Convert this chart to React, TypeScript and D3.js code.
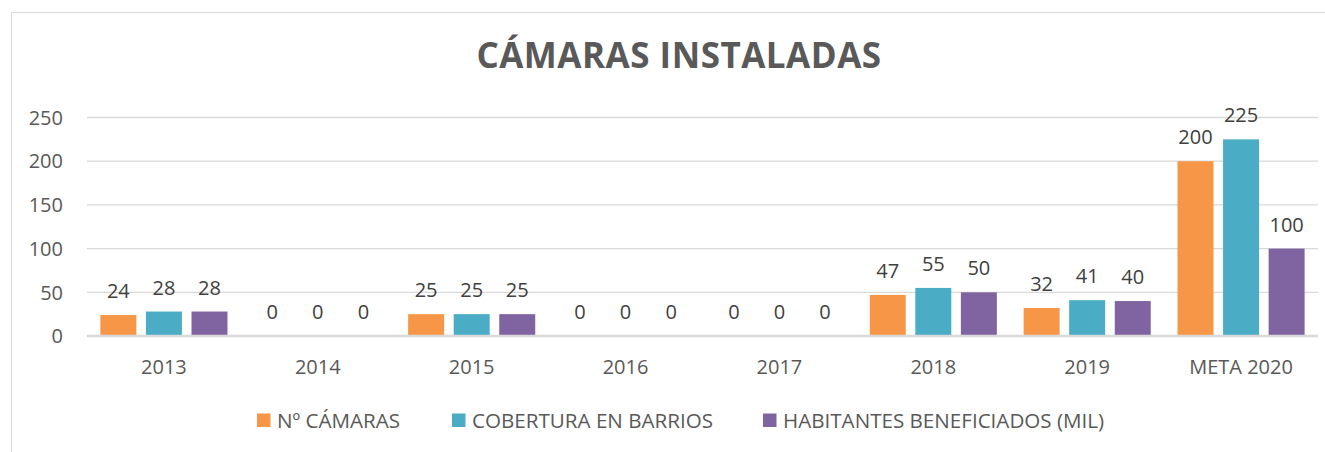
import React from "react";
import * as d3 from "d3";

const categories = ["2013", "2014", "2015", "2016", "2017", "2018", "2019", "META 2020"];
const seriesNames = ["Nº CÁMARAS", "COBERTURA EN BARRIOS", "HABITANTES BENEFICIADOS (MIL)"];
const camaras = [24, 0, 25, 0, 0, 47, 32, 200];
const cobertura = [28, 0, 25, 0, 0, 55, 41, 225];
const habitantes = [28, 0, 25, 0, 0, 50, 40, 100];
const yTicks = [0, 50, 100, 150, 200, 250];
const colors = ["#F79646", "#4BACC6", "#8064A2"];
const title = "CÁMARAS INSTALADAS";

const W = 1325;
const H = 452;
const FONT = "'Open Sans', 'Noto Sans', sans-serif";

export default function App() {
  const series = [camaras, cobertura, habitantes];
  const plotLeft = 87;
  const plotRight = 1318;
  const x = d3.scaleBand<string>().domain(categories).range([plotLeft, plotRight]).padding(0);
  const y = d3.scaleLinear().domain([0, 250]).range([336, 117.5]);
  const groupW = x.bandwidth() * 0.826;
  const inner = d3
    .scaleBand<number>()
    .domain([0, 1, 2])
    .range([-groupW / 2, groupW / 2])
    .paddingInner(0.21)
    .paddingOuter(0);

  const legendX = [257, 452, 763];

  return (
    <svg
      width={W}
      height={H}
      style={{ position: "absolute", left: 0, top: 0, background: "#fff" }}
      fontFamily={FONT}
    >
      <rect x={0} y={0} width={W} height={H} fill="#fff" />
      {/* chart frame */}
      <line x1={11.5} y1={12.5} x2={W} y2={12.5} stroke="#D9D9D9" strokeWidth={1} />
      <line x1={11.5} y1={12.5} x2={11.5} y2={H} stroke="#D9D9D9" strokeWidth={1} />

      <text
        x={679}
        y={68}
        textAnchor="middle"
        fontSize={35}
        fontWeight={700}
        letterSpacing={0.5}
        fill="#595959"
      >
        {title}
      </text>

      {/* gridlines */}
      {yTicks.map((t) => (
        <g key={t}>
          {t !== 0 && (
            <line
              x1={plotLeft}
              x2={plotRight}
              y1={y(t)}
              y2={y(t)}
              stroke="#D9D9D9"
              strokeWidth={1.3}
            />
          )}
          <text
            x={63}
            y={y(t)}
            dy="0.36em"
            textAnchor="end"
            fontSize={20}
            fill="#595959"
          >
            {t}
          </text>
        </g>
      ))}

      {/* bars */}
      {categories.map((c, i) => {
        const cx = (x(c) as number) + x.bandwidth() / 2;
        return (
          <g key={c}>
            {series.map((s, k) => {
              const bx = cx + (inner(k) as number);
              const v = s[i];
              return (
                <g key={k}>
                  {v > 0 && (
                    <rect
                      x={bx}
                      y={y(v)}
                      width={inner.bandwidth()}
                      height={y(0) - y(v)}
                      fill={colors[k]}
                    />
                  )}
                  <text
                    x={bx + inner.bandwidth() / 2}
                    y={y(v) - 17}
                    textAnchor="middle"
                    fontSize={20}
                    fill="#404040"
                  >
                    {v}
                  </text>
                </g>
              );
            })}
            <text x={cx} y={374} textAnchor="middle" fontSize={20} fill="#595959">
              {c}
            </text>
          </g>
        );
      })}

      {/* baseline */}
      <line x1={plotLeft} x2={plotRight} y1={y(0)} y2={y(0)} stroke="#D9D9D9" strokeWidth={2.5} />

      {/* legend */}
      {seriesNames.map((n, k) => (
        <g key={n}>
          <rect x={legendX[k]} y={413.5} width={13.5} height={13.5} fill={colors[k]} />
          <text x={legendX[k] + 20} y={427.5} fontSize={20.6} fill="#595959">
            {n}
          </text>
        </g>
      ))}
    </svg>
  );
}
